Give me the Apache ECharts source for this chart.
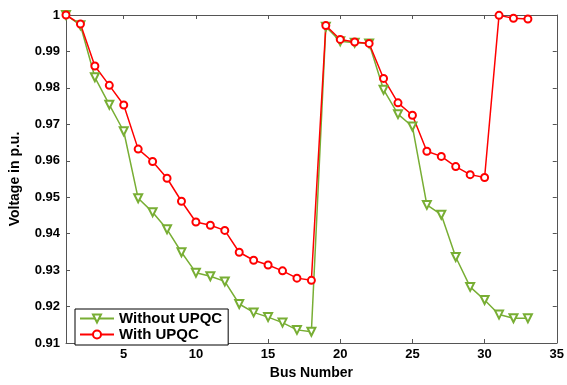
<!DOCTYPE html>
<html><head><meta charset="utf-8">
<script src="https://cdn.jsdelivr.net/npm/echarts@6/dist/echarts.min.js"></script>
<style>html,body{margin:0;padding:0;background:#fff}#c{width:567px;height:385px}</style>
</head><body><div id="c"></div>
<script>
const busNumbers = [1,2,3,4,5,6,7,8,9,10,11,12,13,14,15,16,17,18,19,20,21,22,23,24,25,26,27,28,29,30,31,32,33];
const withoutUPQC = [1.0,0.9972,0.9829,0.9754,0.9681,0.9497,0.9459,0.9412,0.9349,0.9293,0.9283,0.9269,0.9207,0.9184,0.9171,0.9156,0.9136,0.9131,0.9968,0.9928,0.9924,0.9922,0.9795,0.9728,0.9694,0.9479,0.9452,0.9336,0.9254,0.9218,0.9178,0.9168,0.9168];
const withUPQC = [1.0,0.9975,0.9860,0.9807,0.9753,0.9632,0.9598,0.9552,0.9489,0.9432,0.9423,0.9409,0.9349,0.9327,0.9314,0.9298,0.9278,0.9272,0.9971,0.9933,0.9926,0.9922,0.9826,0.9759,0.9725,0.9626,0.9612,0.9584,0.9562,0.9554,0.9999,0.9991,0.9989];
const xTicks = [5,10,15,20,25,30,35];
const yTicks = [0.91,0.92,0.93,0.94,0.95,0.96,0.97,0.98,0.99,1];

const chart = echarts.init(document.getElementById('c'));
const font = 'Arial, "Liberation Sans", sans-serif';
const axisLine = {show:true, lineStyle:{color:'#555', width:1}};
chart.setOption({
  animation:false,
  grid:{left:65, right:7, top:15, bottom:33},
  legend:{
    left:75, top:309, orient:'vertical', backgroundColor:'#fff',
    borderColor:'#000', borderWidth:1, padding:[2,6,3,4], itemGap:1,
    itemWidth:34, itemHeight:10,
    textStyle:{fontFamily:font, fontWeight:'bold', fontSize:15, color:'#000'},
    data:['Without UPQC','With UPQC']
  },
  xAxis:[{
    type:'value', min:1, max:35, name:'Bus Number', nameLocation:'middle', nameGap:23,
    nameTextStyle:{fontFamily:font, fontWeight:'bold', fontSize:14, color:'#000'},
    axisLine:axisLine, splitLine:{show:false},
    axisTick:{show:true, inside:true, length:4, customValues:xTicks, lineStyle:{color:'#555'}},
    axisLabel:{customValues:xTicks, fontFamily:font, fontWeight:'bold', fontSize:13, color:'#000', margin:5}
  },{
    type:'value', min:1, max:35, position:'top', axisLine:axisLine, splitLine:{show:false},
    axisTick:{show:true, inside:true, length:4, customValues:xTicks, lineStyle:{color:'#555'}},
    axisLabel:{show:false}
  }],
  yAxis:[{
    type:'value', min:0.91, max:1, name:'Voltage in p.u.', nameLocation:'middle', nameGap:44,
    nameTextStyle:{fontFamily:font, fontWeight:'bold', fontSize:14, color:'#000'},
    axisLine:axisLine, splitLine:{show:false},
    axisTick:{show:true, inside:true, length:4, customValues:yTicks, lineStyle:{color:'#555'}},
    axisLabel:{customValues:yTicks, fontFamily:font, fontWeight:'bold', fontSize:13, color:'#000', margin:6,
      formatter:v=>String(+v.toFixed(2))}
  },{
    type:'value', min:0.91, max:1, position:'right', axisLine:axisLine, splitLine:{show:false},
    axisTick:{show:true, inside:true, length:4, customValues:yTicks, lineStyle:{color:'#555'}},
    axisLabel:{show:false}
  }],
  series:[{
    name:'Without UPQC', type:'line', data:busNumbers.map((b,i)=>[b,withoutUPQC[i]]),
    symbol:'emptyTriangle', symbolRotate:180, symbolSize:8,
    lineStyle:{color:'#78ae34', width:1.5}, itemStyle:{color:'#78ae34', borderWidth:1}
  },{
    name:'With UPQC', type:'line', data:busNumbers.map((b,i)=>[b,withUPQC[i]]),
    symbol:'emptyCircle', symbolSize:7,
    lineStyle:{color:'#ff0000', width:1.5}, itemStyle:{color:'#ff0000', borderWidth:1}
  }]
});
</script></body></html>
